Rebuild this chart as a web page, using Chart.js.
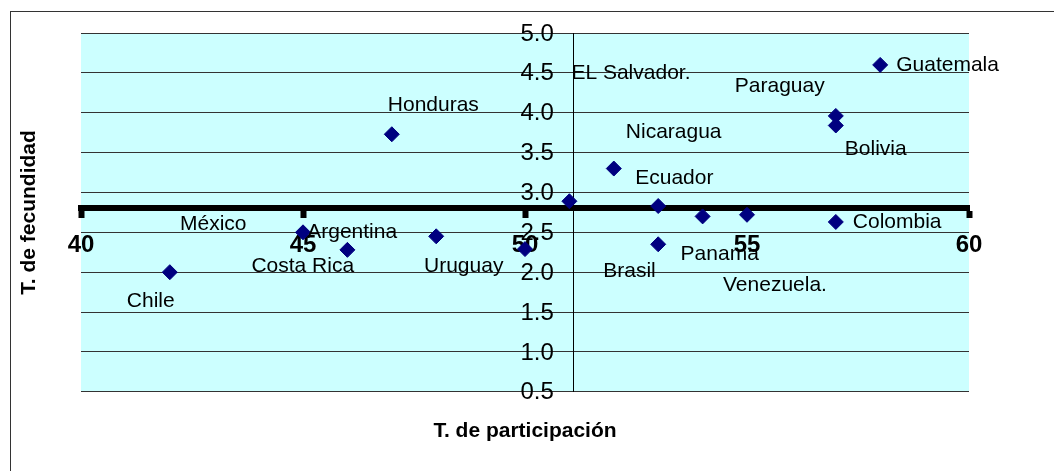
<!DOCTYPE html>
<html>
<head>
<meta charset="utf-8">
<script src="https://cdn.jsdelivr.net/npm/chart.js@4"></script>
<style>
  html, body { margin: 0; padding: 0; background: #fff; }
  canvas { display: block; }
</style>
</head>
<body>
<canvas id="chart" width="1054" height="471"></canvas>
<script>
// Datos: tasa de participación vs tasa de fecundidad por país
const countries = ['Chile', 'México', 'Costa Rica', 'Argentina', 'Honduras', 'Uruguay', 'EL Salvador.', 'Nicaragua',
    'Ecuador', 'Brasil', 'Panama', 'Venezuela.', 'Colombia', 'Paraguay', 'Bolivia', 'Guatemala'];
const participacion = [42, 45, 46, 48, 47, 50, 51, 52, 53, 53, 54, 55, 57, 57, 57, 58];
const fecundidad = [2.00, 2.50, 2.28, 2.45, 3.73, 2.29, 2.89, 3.30, 2.83, 2.35, 2.70, 2.72, 2.63, 3.96, 3.84, 4.60];

// ejes
const xTitle = 'T. de participación';
const yTitle = 'T. de fecundidad';
const X_CROSS = 51.1; // el eje Y corta al X aquí
const Y_CROSS = 2.8;  // el eje X corta al Y aquí

// desplazamiento de cada etiqueta respecto a su punto (px), como en el original
const labelOffsets = [[-43, 29], [-123, -8], [-96, 16], [-129, -4], [-4, -29], [-101, 17], [2, -128], [12, -36],
    [-23, -28], [-55, 27], [-22, 38], [-24, 70], [17, 0], [-101, -30], [9, 24], [16, 0]];

const FONT = "'Liberation Sans', Arial, sans-serif";

const points = participacion.map((x, i) => ({ x, y: fecundidad[i] }));

// fondo del área de trazado y marco exterior
const backgroundPlugin = {
    id: 'background',
    beforeDraw(chart) {
        const { ctx, chartArea: a } = chart;
        ctx.save();
        ctx.fillStyle = '#ccffff';
        ctx.fillRect(a.left, a.top, a.right - a.left, a.bottom - a.top);
        ctx.strokeStyle = '#333';
        ctx.lineWidth = 1;
        ctx.strokeRect(10.5, 11.5, 1200, 600);
        ctx.restore();
    }
};

// rótulos del eje Y a la izquierda del eje (Chart.js los pega al eje cuando está en el centro)
const yLabelsPlugin = {
    id: 'yLabels',
    afterDraw(chart) {
        const { ctx } = chart;
        const ys = chart.scales.y;
        const xAxis = chart.scales.x.getPixelForValue(X_CROSS);
        ctx.save();
        ctx.font = '24px ' + FONT;
        ctx.fillStyle = '#000';
        ctx.textAlign = 'right';
        ctx.textBaseline = 'middle';
        ys.ticks.forEach(t => {
            ctx.fillText(t.value.toFixed(1), xAxis - 20, ys.getPixelForValue(t.value) + 1);
        });
        ctx.restore();
    }
};

// etiquetas de los países
const labelPlugin = {
    id: 'countryLabels',
    afterDatasetsDraw(chart) {
        const { ctx } = chart;
        const meta = chart.getDatasetMeta(0);
        ctx.save();
        ctx.font = '21px ' + FONT;
        ctx.fillStyle = '#000';
        ctx.textAlign = 'left';
        ctx.textBaseline = 'middle';
        meta.data.forEach((pt, i) => {
            const [dx, dy] = labelOffsets[i];
            ctx.fillText(countries[i], pt.x + dx, pt.y + dy);
        });
        ctx.restore();
    }
};

new Chart(document.getElementById('chart'), {
    type: 'scatter',
    data: {
        datasets: [{
            data: points,
            pointStyle: 'rectRot',
            pointRadius: 7.5,
            pointHoverRadius: 7.5,
            backgroundColor: '#000080',
            borderColor: '#000080',
            borderWidth: 1
        }]
    },
    options: {
        responsive: false,
        animation: false,
        events: [],
        layout: { padding: { left: 8, right: 85, top: 33, bottom: 10 } },
        plugins: {
            legend: { display: false },
            tooltip: { enabled: false }
        },
        scales: {
            x: {
                type: 'linear',
                min: 40,
                max: 60,
                position: { y: Y_CROSS },
                ticks: {
                    stepSize: 5,
                    padding: 16,
                    color: '#000',
                    font: { family: FONT, size: 24, weight: 'bold' }
                },
                grid: {
                    drawOnChartArea: false,
                    drawTicks: true,
                    tickLength: 7,
                    tickWidth: 6,
                    tickColor: '#000'
                },
                border: { display: true, color: '#000', width: 6 }
            },
            y: {
                type: 'linear',
                min: 0.5,
                max: 5.0,
                position: { x: X_CROSS },
                ticks: {
                    stepSize: 0.5,
                    display: false
                },
                grid: {
                    color: '#333',
                    lineWidth: 1,
                    tickLength: 6
                },
                border: { display: true, color: '#000', width: 1 }
            },
            xTitleAxis: {
                type: 'linear',
                axis: 'x',
                position: 'bottom',
                ticks: { display: false },
                grid: { display: false, drawTicks: false },
                border: { display: false },
                title: {
                    display: true,
                    text: xTitle,
                    color: '#000',
                    font: { family: FONT, size: 21, weight: 'bold' },
                    padding: { top: 27.3, bottom: 16.7 }
                }
            },
            yTitleAxis: {
                type: 'linear',
                axis: 'y',
                position: 'left',
                ticks: { display: false },
                grid: { display: false, drawTicks: false },
                border: { display: false },
                title: {
                    display: true,
                    text: yTitle,
                    color: '#000',
                    font: { family: FONT, size: 21, weight: 'bold' },
                    padding: { top: 8.4, bottom: 39.4 }
                }
            }
        }
    },
    plugins: [backgroundPlugin, yLabelsPlugin, labelPlugin]
});
</script>
</body>
</html>
